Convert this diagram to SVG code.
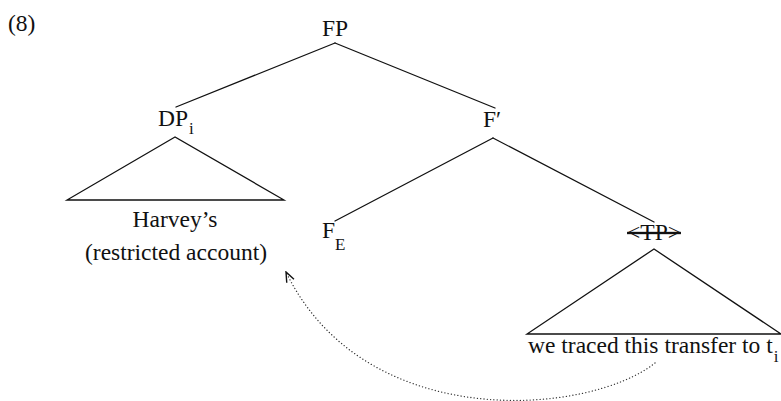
<svg xmlns="http://www.w3.org/2000/svg" width="781" height="401" viewBox="0 0 781 401" font-family="'Liberation Serif', 'DejaVu Serif', serif">
  <style>
    text { font-family: 'Liberation Serif', 'DejaVu Serif', serif; font-size: 23.5px; fill: #111; }
    .mid { text-anchor: middle; }
    .sub { font-size: 17px; }
    .edge { stroke: #111; stroke-width: 1.3; fill: none; stroke-linecap: round; }
    .tri { stroke: #111; stroke-width: 1.3; fill: none; stroke-linejoin: miter; }
    .move { stroke: #333; stroke-width: 1.3; fill: none; stroke-dasharray: 0.1 3.2; stroke-linecap: round; }
  </style>
  <defs>
    <marker id="head" viewBox="0 0 12 10" refX="11" refY="5" markerWidth="12" markerHeight="10" markerUnits="userSpaceOnUse" orient="auto">
      <path d="M1,1 L11,5 L1,9" fill="none" stroke="#111" stroke-width="1.4"/>
    </marker>
  </defs>

  <text x="8" y="31">(8)</text>

  <!-- branches -->
  <g id="connectors">
    <line class="edge" x1="335" y1="43" x2="176" y2="107"/>
    <line class="edge" x1="335" y1="43" x2="495" y2="108"/>
    <line class="edge" x1="493" y1="138" x2="335" y2="221"/>
    <line class="edge" x1="493" y1="138" x2="654" y2="222"/>
    <!-- movement of DP from the trace -->
    <path class="move" d="M655,363 C590,415 365,435 286,272" marker-end="url(#head)"/>
  </g>

  <g id="FP">
    <text class="mid" x="335" y="36">FP</text>
  </g>

  <g id="DP">
    <text x="158" y="126">DP<tspan class="sub" dx="1" dy="8">i</tspan></text>
    <polygon class="tri" points="175,137 67,200 284,200"/>
    <text class="mid" x="175" y="227">Harvey’s</text>
    <text class="mid" x="176" y="260">(restricted account)</text>
  </g>

  <g id="Fbar">
    <text class="mid" x="492" y="127">F′</text>
  </g>

  <g id="FE">
    <text x="322" y="238">F<tspan class="sub" dy="12">E</tspan></text>
  </g>

  <g id="TP">
    <text class="mid" x="654" y="240" text-decoration="line-through">&lt;TP&gt;</text>
    <polygon class="tri" points="654,249 527,334 781,334"/>
    <text x="528" y="353">we traced this transfer to t<tspan class="sub" dx="1" dy="9">i</tspan></text>
  </g>
</svg>
